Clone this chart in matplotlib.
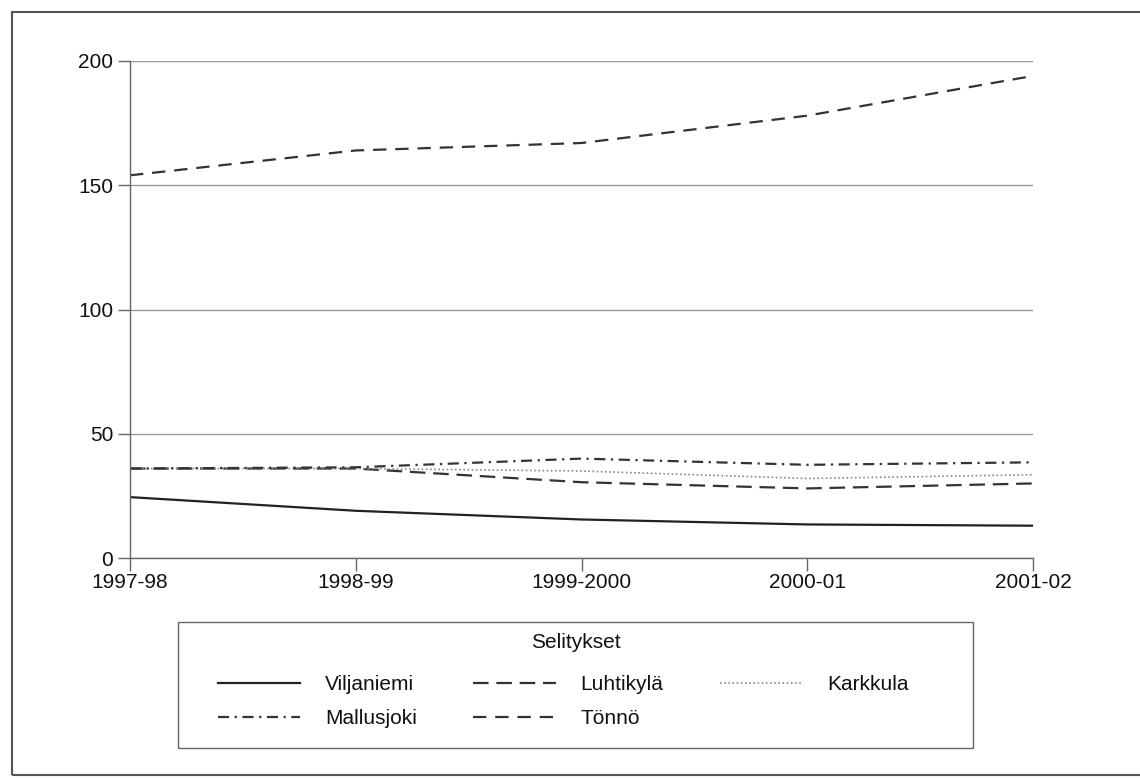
import matplotlib
matplotlib.use("Agg")
import matplotlib.pyplot as plt
from matplotlib.patches import Rectangle

plt.rcParams['font.family'] = ['Liberation Sans', 'DejaVu Sans']

years = ["1997-98", "1998-99", "1999-2000", "2000-01", "2001-02"]
viljaniemi = [24.5, 19, 15.5, 13.5, 13]
luhtikyla = [36, 36, 30.5, 28, 30]
karkkula = [36, 36, 35, 32, 33.5]
mallusjoki = [36, 36.5, 40, 37.5, 38.5]
tonno = [154, 164, 167, 178, 194]
yticks = [0, 50, 100, 150, 200]
legend_title = "Selitykset"

W, H = 1140, 778
fig = plt.figure(figsize=(W / 100, H / 100), dpi=100)
ax = fig.add_axes([130 / W, 1 - 558 / H, 903 / W, 497 / H])

x = list(range(len(years)))
lw = 1.6
l1, = ax.plot(x, viljaniemi, color='#222222', lw=lw, ls='-', label='Viljaniemi')
l2, = ax.plot(x, luhtikyla, color='#333333', lw=lw, ls=(0, (7, 3.5)), label='Luhtikylä')
l3, = ax.plot(x, karkkula, color='#888888', lw=1.2, ls=(0, (1, 1.5)), label='Karkkula')
l4, = ax.plot(x, mallusjoki, color='#333333', lw=lw, ls=(0, (5, 2.5, 1, 2.5)), label='Mallusjoki')
l5, = ax.plot(x, tonno, color='#333333', lw=lw, ls=(0, (6, 4)), label='Tönnö')

ax.set_xlim(0, len(years) - 1)
ax.set_ylim(0, 200)
ax.set_xticks(x)
ax.set_xticklabels(years)
ax.set_yticks(yticks)
ax.yaxis.grid(True, color='#999999', lw=1.0)
ax.set_axisbelow(True)
for s in ['top', 'right']:
    ax.spines[s].set_visible(False)
for s in ['left', 'bottom']:
    ax.spines[s].set_color('#666666')
    ax.spines[s].set_linewidth(1.0)
ax.tick_params(axis='both', length=9, width=1.0, color='#666666',
               labelsize=15, labelcolor='#111111', pad=3)
ax.tick_params(axis='x', pad=2)

# legend box
box_l, box_r, box_t, box_b = 178, 973, 622, 748
fig.add_artist(Rectangle((box_l / W, 1 - box_b / H), (box_r - box_l) / W, (box_b - box_t) / H,
                         transform=fig.transFigure, fill=False,
                         edgecolor='#666666', lw=1.0))
fig.text(576 / W, 1 - 642 / H, legend_title, ha='center', va='center',
         fontsize=15, color='#111111')
leg = fig.legend(handles=[l1, l4, l2, l5, l3], ncol=3,
                 loc='upper left', bbox_to_anchor=(218 / W, 1 - 675 / H),
                 fontsize=15, handlelength=3.95,
                 handletextpad=1.2, columnspacing=2.7, frameon=False,
                 borderpad=0, borderaxespad=0, labelspacing=0.74)
for t in leg.get_texts():
    t.set_color('#111111')

# outer page frame
fig.add_artist(Rectangle((12 / W, 1 - 775 / H), 1.0, (775 - 12) / H,
                         transform=fig.transFigure, fill=False,
                         edgecolor='#555555', lw=1.5))

fig.savefig('out.png', dpi=100)
